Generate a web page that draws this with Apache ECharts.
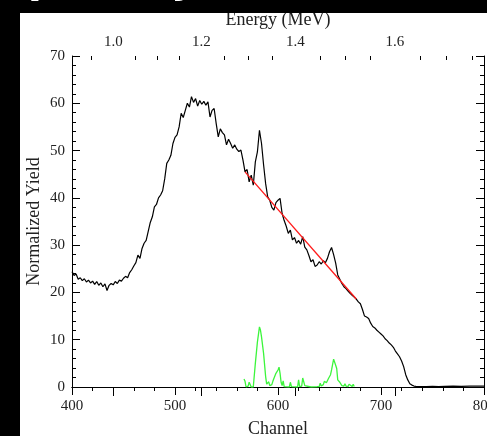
<!DOCTYPE html>
<html><head><meta charset="utf-8">
<script src="https://cdn.jsdelivr.net/npm/echarts@6/dist/echarts.min.js"></script>
<style>html,body{margin:0;padding:0;background:#000}#c{width:487px;height:436px}</style>
</head><body><div id="c"></div>
<script>
// Measured spectrum: [channel, normalized yield]
const spectrum = [
[400,24.4],[402,23.6],[404,23.9],[406,22.8],[408,23.1],[410,22.5],[412,22.9],[414,22.2],[416,22.6],[418,22.0],
[420,22.4],[422,21.7],[424,22.3],[426,21.5],[428,22.0],[430,21.2],[432,21.8],[434,20.4],[436,21.5],[438,21.9],
[440,21.6],[442,22.3],[444,21.9],[446,22.6],[448,22.4],[450,23.0],[452,23.4],[454,23.1],[456,24.2],[458,24.8],
[460,25.6],[462,26.3],[464,27.9],[466,27.2],[468,29.3],[470,30.4],[472,31.0],[474,32.9],[476,34.8],[478,36.0],
[480,38.1],[482,38.6],[484,40.0],[486,40.6],[488,41.5],[490,44.0],[492,47.3],[494,48.0],[496,49.0],[498,51.5],
[500,52.8],[502,53.3],[504,55.0],[506,57.9],[508,57.0],[510,58.5],[512,60.0],[514,59.2],[516,61.4],[518,60.2],
[520,61.0],[522,59.4],[524,60.6],[526,59.8],[528,60.4],[530,59.6],[532,60.3],[534,57.1],[536,58.5],[538,58.9],
[540,55.7],[542,52.9],[544,54.6],[546,53.8],[548,53.3],[550,51.2],[552,52.4],[554,51.5],[556,50.5],[558,51.2],
[560,50.3],[562,49.8],[564,50.1],[566,48.0],[568,45.5],[570,46.0],[572,43.4],[574,44.8],[576,42.7],[578,47.6],
[580,49.7],[582,54.3],[584,51.5],[586,47.0],[588,43.0],[590,40.2],[592,39.5],[594,38.0],[596,37.4],[598,39.0],
[600,39.5],[602,39.9],[604,36.7],[606,35.2],[608,34.0],[610,32.5],[612,33.2],[614,31.1],[616,31.6],[618,30.4],
[620,31.0],[622,30.2],[624,31.8],[626,29.6],[628,29.0],[630,27.8],[632,26.5],[634,26.9],[636,25.5],[638,25.8],
[640,26.5],[642,26.0],[644,26.7],[646,26.3],[648,27.2],[650,28.6],[652,29.5],[654,28.0],[656,26.2],[658,23.7],
[660,22.8],[662,21.9],[664,21.2],[666,20.8],[668,20.3],[670,19.8],[672,19.4],[674,19.0],[676,18.6],[678,18.0],
[680,17.6],[682,16.4],[684,15.0],[686,14.8],[688,14.5],[690,13.5],[692,12.8],[694,12.5],[696,12.0],[698,11.6],
[700,11.2],[702,10.8],[704,10.2],[706,9.8],[708,9.3],[710,8.9],[712,8.4],[714,7.6],[716,7.0],[718,6.4],
[720,5.5],[722,4.3],[724,2.6],[726,1.5],[728,0.7],[730,0.4],[732,0.2],[734,0.15],[738,0.1],[744,0.1],
[750,0.15],[756,0.1],[762,0.15],[770,0.2],[778,0.15],[786,0.2],[794,0.2],[800,0.2]
];
// Fitted background (red)
const background = [[568,45.5],[676,18.6]];
// Background-subtracted spectrum (green)
const difference = [
[567,1.7],[568,1.2],[569,0],[571,0.2],[572,1.0],[573,0.9],[574,0],[576,0],[577,0.3],[578,5.0],
[580,9.5],[582,12.7],[583,12.0],[584,10.6],[586,7.1],[588,2.2],[589,0.6],[590,0.2],[591,1.1],[592,0.3],
[593,0.2],[594,0.5],[595,1.2],[596,1.8],[597,1.5],[598,2.9],[599,2.6],[600,3.6],[601,4.2],[602,2.9],
[603,1.0],[604,0.3],[605,1.3],[606,0.1],[611,0],[612,1.0],[613,0.1],[619,0],[620,1.5],[621,0.1],
[623,0.2],[624,1.9],[625,1.8],[626,0.3],[627,0.1],[632,0],[638,0.05],[640,0.1],[641,0.8],[642,0.2],
[644,0.5],[645,1.2],[646,1.6],[647,0.9],[649,1.8],[651,2.6],[652,3.6],[654,5.9],[656,4.6],[657,3.9],
[658,1.5],[660,1.0],[661,1.3],[662,0.3],[664,0.2],[665,0.7],[666,0.2],[668,0.1],[669,0.6],[670,0.2],
[672,0.1],[673,0.6],[674,0.1]
];
// Top energy axis (MeV), given as channel positions
const energyLabels = ['1.0','1.2','1.4','1.6'];
const energyLabelChannels = [440.1,525.5,616.8,713.4];
const energyMinorChannels = [418.75,461.45,482.8,504.15,548.3,571.2,594.0,641.0,665.1,689.3,738.4,763.4,788.4];

const font = 'Liberation Serif';
const txt = '#222';
const chart = echarts.init(document.getElementById('c'), null, {renderer:'canvas'});
const axLine = {show:true, lineStyle:{color:'#000', width:1}};
chart.setOption({
  animation:false,
  backgroundColor:'#fff',
  grid:{left:72, right:3, top:56, bottom:49, containLabel:false, outerBoundsMode:'none'},
  xAxis:[
    {type:'value', position:'bottom', min:400, max:800, interval:100,
     axisLine:axLine, splitLine:{show:false},
     axisTick:{show:true, inside:false, length:8, lineStyle:{color:'#000'}},
     minorTick:{show:true, splitNumber:5, length:4, lineStyle:{color:'#000'}},
     axisLabel:{fontFamily:font, fontSize:15, color:txt, margin:12, showMaxLabel:true, hideOverlap:false},
     name:'Channel', nameLocation:'middle', nameGap:33, nameMoveOverlap:false,
     nameTextStyle:{fontFamily:font, fontSize:18, color:txt}},
    {type:'value', position:'top', min:400, max:800,
     axisLine:axLine, splitLine:{show:false},
     axisTick:{show:true, inside:true, length:9, customValues:energyLabelChannels, lineStyle:{color:'#000'}},
     axisLabel:{fontFamily:font, fontSize:15, color:txt, margin:6, customValues:energyLabelChannels,
       formatter:function(v){const i=energyLabelChannels.indexOf(v);return i>=0?energyLabels[i]:'';}},
     name:'Energy (MeV)', nameLocation:'middle', nameGap:27, nameMoveOverlap:false,
     nameTextStyle:{fontFamily:font, fontSize:18, color:txt}},
    {type:'value', position:'top', min:400, max:800,
     axisLine:{show:false}, splitLine:{show:false},
     axisTick:{show:true, inside:true, length:4, customValues:energyMinorChannels, lineStyle:{color:'#000'}},
     axisLabel:{show:false}}
  ],
  yAxis:[
    {type:'value', position:'left', min:0, max:70, interval:10,
     axisLine:axLine, splitLine:{show:false},
     axisTick:{show:true, inside:true, length:8, lineStyle:{color:'#000'}},
     minorTick:{show:true, splitNumber:5, length:4, lineStyle:{color:'#000'}},
     axisLabel:{fontFamily:font, fontSize:15, color:txt, margin:7},
     name:'Normalized Yield', nameLocation:'middle', nameGap:29, nameRotate:90, nameMoveOverlap:false,
     nameTextStyle:{fontFamily:font, fontSize:18, color:txt}},
    {type:'value', position:'right', min:0, max:70, interval:10,
     axisLine:axLine, splitLine:{show:false},
     axisTick:{show:true, inside:true, length:8, lineStyle:{color:'#000'}},
     minorTick:{show:true, splitNumber:5, length:4, lineStyle:{color:'#000'}},
     axisLabel:{show:false}}
  ],
  series:[
    {type:'line', data:spectrum, xAxisIndex:0, yAxisIndex:0, showSymbol:false, symbol:'none',
     lineStyle:{color:'#000', width:1.2}, z:3},
    {type:'line', data:background, xAxisIndex:0, yAxisIndex:0, showSymbol:false, symbol:'none',
     lineStyle:{color:'#ff1a1a', width:1.3}, z:4},
    {type:'line', data:difference, xAxisIndex:0, yAxisIndex:0, showSymbol:false, symbol:'none',
     lineStyle:{color:'#3cf53c', width:1.3}, z:5}
  ],
  graphic:[
    {type:'rect', shape:{x:0,y:0,width:487,height:13}, style:{fill:'#000'}, z:100},
    {type:'rect', shape:{x:0,y:0,width:20,height:436}, style:{fill:'#000'}, z:100},
    {type:'text', x:28, y:2, style:{text:'p', fill:'#fff', font:'bold 40px "DejaVu Sans"', verticalAlign:'bottom'}, z:101},
    {type:'text', x:171, y:2, style:{text:'y', fill:'#fff', font:'bold 40px "DejaVu Sans"', verticalAlign:'bottom'}, z:101}
  ]
});
</script></body></html>
